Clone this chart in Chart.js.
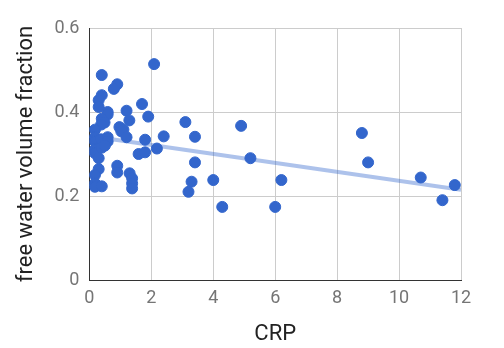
<!DOCTYPE html>
<html>
<head>
<meta charset="utf-8">
<script src="https://cdn.jsdelivr.net/npm/chart.js@4"></script>
<style>
  html, body { margin: 0; padding: 0; background: #fff; }
  #wrap { width: 504px; height: 348px; }
</style>
</head>
<body>
<div id="wrap"><canvas id="scatter_crp"></canvas></div>
<script>
// CRP (x) vs free water volume fraction (y)
const crp = [2.09, 0.40, 0.90, 0.79, 0.40, 0.30, 0.30, 1.70, 0.59, 0.59, 1.20, 1.90, 1.29,
             0.40, 0.49, 0.38, 0.18, 0.97, 1.10, 1.03, 1.20, 0.18, 0.18, 0.38, 0.59, 0.59,
             1.80, 2.40, 2.18, 1.59, 1.80, 0.18, 0.18, 0.40, 0.30, 0.30, 0.90, 0.90, 0.18,
             1.30, 1.38, 1.38, 1.38, 0.18, 0.18, 0.40, 0.50,
             3.10, 4.90, 3.41, 5.20, 3.41, 3.30, 3.20, 4.00, 4.29, 6.00, 6.20,
             8.80, 9.00, 10.70, 11.80, 11.40];
const fwv = [0.514, 0.488, 0.466, 0.455, 0.440, 0.428, 0.412, 0.419, 0.400, 0.394, 0.403, 0.389, 0.380,
             0.384, 0.375, 0.370, 0.358, 0.364, 0.358, 0.354, 0.340, 0.340, 0.330, 0.335, 0.340, 0.330,
             0.334, 0.342, 0.313, 0.300, 0.304, 0.311, 0.302, 0.315, 0.290, 0.264, 0.272, 0.256, 0.250,
             0.254, 0.242, 0.230, 0.218, 0.230, 0.222, 0.223, 0.320,
             0.376, 0.367, 0.341, 0.290, 0.280, 0.234, 0.210, 0.238, 0.174, 0.174, 0.238,
             0.350, 0.280, 0.244, 0.226, 0.190];
// trend line ends
const trendX = [0, 12];
const trendY = [0.343, 0.215];

const points = crp.map((x, i) => ({x: x, y: fwv[i]}));
const trend = trendX.map((x, i) => ({x: x, y: trendY[i]}));

const gridCol = '#cccccc';
const tickFont = {family: 'Roboto', size: 18};
const titleFont = {family: 'Roboto', size: 22};

const crp_chart = new Chart(document.getElementById('scatter_crp'), {
    type: 'scatter',
    data: {
        datasets: [{
            data: points,
            backgroundColor: '#3366cc',
            borderColor: '#3366cc',
            pointRadius: 5.5,
            pointHoverRadius: 5.5,
            order: 1
        }, {
            type: 'line',
            data: trend,
            borderColor: 'rgba(51,102,204,0.4)',
            borderWidth: 4,
            pointRadius: 0,
            fill: false,
            order: 2
        }]
    },
    options: {
        responsive: true,
        maintainAspectRatio: false,
        animation: false,
        layout: {padding: {left: 2, right: 43, top: 28, bottom: 0}},
        plugins: {
            legend: {display: false},
            tooltip: {enabled: false}
        },
        scales: {
            x: {
                type: 'linear',
                min: 0, max: 12,
                ticks: {stepSize: 2, color: '#757575', font: tickFont, padding: 8},
                grid: {color: gridCol, drawTicks: false},
                border: {color: '#333333', width: 1},
                title: {display: true, text: 'CRP', color: '#222222', font: titleFont, padding: {top: 4, bottom: 0}}
            },
            y: {
                min: 0, max: 0.6,
                ticks: {stepSize: 0.2, color: '#757575', font: tickFont, padding: 10},
                grid: {color: gridCol, drawTicks: false},
                border: {color: '#333333', width: 1},
                title: {display: true, text: 'free water volume fraction', color: '#222222', font: titleFont, padding: {top: 11, bottom: 5}}
            }
        }
    }
});
</script>
</body>
</html>
